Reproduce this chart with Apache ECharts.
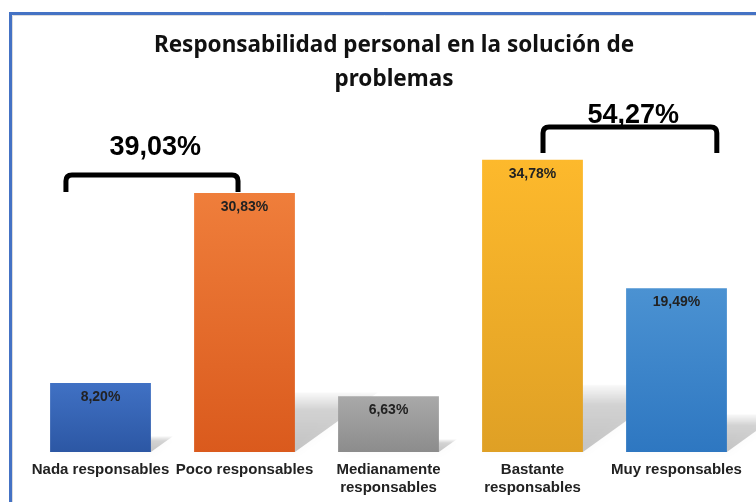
<!DOCTYPE html>
<html>
<head>
<meta charset="utf-8">
<script src="https://cdn.jsdelivr.net/npm/echarts@6/dist/echarts.min.js"></script>
<style>
  html, body { margin: 0; padding: 0; background: #fff; }
  #chart { width: 756px; height: 502px; }
</style>
</head>
<body>
<div id="chart"></div>
<script>
// datos del gráfico
const categories = ['Nada responsables', 'Poco responsables', 'Medianamente\nresponsables', 'Bastante\nresponsables', 'Muy responsables'];
const values = [8.20, 30.83, 6.63, 34.78, 19.49];
const colorsTop = ['#4071c4', '#ef7e3b', '#a9a9a9', '#fdb92c', '#4b92d2'];
const colorsBottom = ['#2c57a4', '#da5a1d', '#8c8c8c', '#dfa025', '#2e77c1'];
// agrupaciones (llaves)
const groupFrom = [0, 3];
const groupTo = [1, 4];
const groupLabels = ['39,03%', '54,27%'];
const groupBottom = [30.95, 35.6];
const groupTop = [32.98, 38.69];
const groupText = [36.2, 40.1];

function fmt(v) {
  return v.toFixed(2).replace('.', ',') + '%';
}

let chart = echarts.init(document.getElementById('chart'));

// ajustes de posición de las llaves en fracciones de categoría
const bracketShift = [[-0.24, -0.045, 0.38], [0.073, 0.28, 0.70]];

let option = {
  animation: false,
  title: {
    text: 'Responsabilidad personal en la solución de\nproblemas',
    left: 389,
    top: 24,
    textAlign: 'center',
    textStyle: {
      fontFamily: 'Noto Sans',
      fontSize: 22.5,
      fontWeight: 'bold',
      color: '#111',
      lineHeight: 34
    }
  },
  graphic: [
    {
      type: 'rect',
      shape: { x: 10.5, y: 13.5, width: 800, height: 600 },
      style: { fill: 'none', stroke: '#4472c4', lineWidth: 3 }
    },
    {
      type: 'rect',
      shape: { x: 12.5, y: 15.5, width: 800, height: 600 },
      style: { fill: 'none', stroke: '#dcdcdc', lineWidth: 1 }
    }
  ],
  grid: { left: 28.5, right: 7.5, top: 116, bottom: 50 },
  xAxis: {
    type: 'category',
    data: categories,
    axisLine: { show: false },
    axisTick: { show: false },
    axisLabel: {
      interval: 0,
      margin: 9,
      fontFamily: 'Liberation Sans',
      fontSize: 15,
      fontWeight: 'bold',
      color: '#222',
      lineHeight: 18
    }
  },
  yAxis: {
    type: 'value',
    min: 0,
    max: 40,
    show: false
  },
  series: [
    {
      // sombra proyectada en el suelo
      type: 'custom',
      z: 1,
      silent: true,
      data: values.map((v, i) => [i, v]),
      renderItem: function (params, api) {
        let idx = api.value(0);
        let base = api.coord([idx, 0]);
        let topP = api.coord([idx, api.value(1)]);
        let band = api.size([1, 0])[0];
        let bw = band * 0.7;
        let xL = base[0] - bw / 2, xR = base[0] + bw / 2;
        let h = base[1] - topP[1];
        let sh = h * 0.23;
        let dx = h * 0.32;
        return {
          type: 'polygon',
          shape: {
            points: [[xL, base[1]], [xR, base[1]], [xR + dx, base[1] - sh], [xL + dx, base[1] - sh]]
          },
          style: {
            fill: new echarts.graphic.LinearGradient(0, 1, 0, 0, [
              { offset: 0, color: 'rgba(0,0,0,0.22)' },
              { offset: 0.7, color: 'rgba(0,0,0,0.16)' },
              { offset: 1, color: 'rgba(0,0,0,0.02)' }
            ]),
            shadowBlur: 8,
            shadowColor: 'rgba(0,0,0,0.12)'
          }
        };
      }
    },
    {
      type: 'bar',
      z: 2,
      barWidth: '70%',
      data: values.map((v, i) => ({
        value: v,
        itemStyle: {
          color: new echarts.graphic.LinearGradient(0, 0, 0, 1, [
            { offset: 0, color: colorsTop[i] },
            { offset: 1, color: colorsBottom[i] }
          ])
        }
      })),
      label: {
        show: true,
        position: 'insideTop',
        distance: 7,
        formatter: p => fmt(p.value),
        fontFamily: 'Liberation Sans',
        fontSize: 14,
        fontWeight: 'bold',
        color: '#222'
      }
    },
    {
      // llaves de agrupación
      type: 'custom',
      z: 3,
      silent: true,
      clip: false,
      data: groupLabels.map((t, i) => [groupFrom[i], groupTo[i], groupBottom[i], groupTop[i], groupText[i]]),
      renderItem: function (params, api) {
        let i = params.dataIndex;
        let band = api.size([1, 0])[0];
        let s = bracketShift[i];
        let x1 = api.coord([api.value(0), 0])[0] + s[0] * band;
        let x2 = api.coord([api.value(1), 0])[0] + s[1] * band;
        let xT = api.coord([api.value(0), 0])[0] + s[2] * band;
        let yB = api.coord([0, api.value(2)])[1];
        let yT = api.coord([0, api.value(3)])[1];
        let yL = api.coord([0, api.value(4)])[1];
        let r = 6;
        return {
          type: 'group',
          children: [
            {
              type: 'path',
              shape: {
                pathData: 'M' + x1 + ' ' + yB + ' L' + x1 + ' ' + (yT + r) +
                  ' Q' + x1 + ' ' + yT + ' ' + (x1 + r) + ' ' + yT +
                  ' L' + (x2 - r) + ' ' + yT +
                  ' Q' + x2 + ' ' + yT + ' ' + x2 + ' ' + (yT + r) +
                  ' L' + x2 + ' ' + yB
              },
              style: { fill: 'none', stroke: '#000', lineWidth: 5, lineJoin: 'round' }
            },
            {
              type: 'text',
              style: {
                text: groupLabels[i],
                x: xT,
                y: yL,
                align: 'center',
                verticalAlign: 'middle',
                fontFamily: 'Liberation Sans',
                fontSize: 27,
                fontWeight: 'bold',
                fill: '#000'
              }
            }
          ]
        };
      }
    }
  ]
};

chart.setOption(option);
</script>
</body>
</html>
